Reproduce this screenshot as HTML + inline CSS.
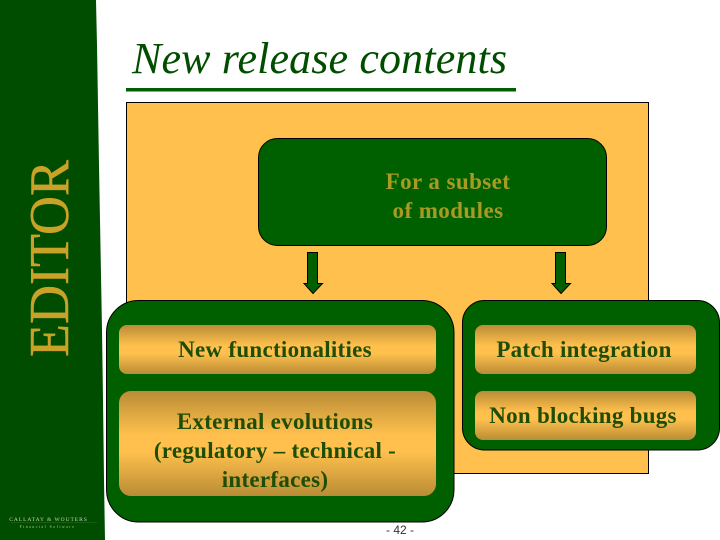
<!DOCTYPE html>
<html><head><meta charset="utf-8">
<style>
html,body{margin:0;padding:0;background:#fff}
svg{display:block}
text{font-family:"Liberation Serif",serif}
.b{font-weight:bold;font-size:23px;fill:#1e4d05;text-anchor:middle;letter-spacing:.28px}
</style></head><body>
<svg width="720" height="540" viewBox="0 0 720 540" xmlns="http://www.w3.org/2000/svg">
<defs>
<linearGradient id="g1" x1="0" y1="0" x2="0" y2="1">
<stop offset="0" stop-color="#b98c35"/><stop offset=".42" stop-color="#ffc04d"/><stop offset=".58" stop-color="#ffc04d"/><stop offset="1" stop-color="#b98c35"/>
</linearGradient>
</defs>
<rect width="720" height="540" fill="#fff"/>
<polygon points="0,0 96,0 97,45 98,105 99,165 100,220 101,275 102,330 103,400 104,480 105,540 0,540" fill="#004d00"/>
<text transform="translate(68,357) rotate(-90)" font-size="56" fill="#c9a227" stroke="#c9a227" stroke-width=".5" textLength="197" lengthAdjust="spacingAndGlyphs">EDITOR</text>
<text x="48.500" y="521" font-size="5.500" fill="#c9d2b8" text-anchor="middle" letter-spacing=".95">CALLATAY &amp; WOUTERS</text>
<text x="47.500" y="528" font-size="3.800" fill="#b9c4a5" text-anchor="middle" letter-spacing="1.500">Financial Software</text>
<rect x="11" y="522.500" width="86" height="0.500" fill="#2f6a20"/>
<text x="132" y="73" font-size="44" font-style="italic" fill="#004d00" textLength="375" lengthAdjust="spacing">New release contents</text>
<rect x="126" y="88" width="390" height="3.500" fill="#006000"/>
<rect x="126.500" y="102.500" width="522" height="371" fill="#ffc04d" stroke="#000" stroke-width="1"/>
<rect x="258.500" y="138.500" width="348" height="107" rx="19" fill="#006000" stroke="#000" stroke-width="1"/>
<text x="448" y="189" font-size="23" font-weight="bold" fill="#a89a22" text-anchor="middle" letter-spacing=".42">For a subset</text>
<text x="448" y="218" font-size="23" font-weight="bold" fill="#a89a22" text-anchor="middle" letter-spacing=".42">of modules</text>
<polygon points="307.500,252.500 317.500,252.500 317.500,283.500 322.500,283.500 313,293.500 304,283.500 307.500,283.500" fill="#006000" stroke="#000"/>
<polygon points="555.500,252.500 565.500,252.500 565.500,283.500 570.500,283.500 561,293.500 552,283.500 555.500,283.500" fill="#006000" stroke="#000"/>
<rect x="106.500" y="300.500" width="347.500" height="221.500" rx="32" fill="#006000" stroke="#000" stroke-width="1"/>
<rect x="462.500" y="300.500" width="257" height="149.500" rx="22" fill="#006000" stroke="#000" stroke-width="1"/>
<rect x="119" y="325" width="317" height="49" rx="8" fill="url(#g1)"/>
<rect x="119" y="391" width="317" height="105" rx="12" fill="url(#g1)"/>
<rect x="475" y="325" width="221" height="49" rx="8" fill="url(#g1)"/>
<rect x="475" y="391" width="221" height="49" rx="8" fill="url(#g1)"/>
<text class="b" x="275" y="357">New functionalities</text>
<text class="b" x="275" y="429">External evolutions</text>
<text class="b" x="275" y="458">(regulatory – technical -</text>
<text class="b" x="275" y="487">interfaces)</text>
<text class="b" x="584" y="357">Patch integration</text>
<text class="b" x="583" y="423">Non blocking bugs</text>
<text x="400" y="534" font-size="12" fill="#333" text-anchor="middle" style="font-family:'Liberation Sans',sans-serif">- 42 -</text>
</svg>
</body></html>
